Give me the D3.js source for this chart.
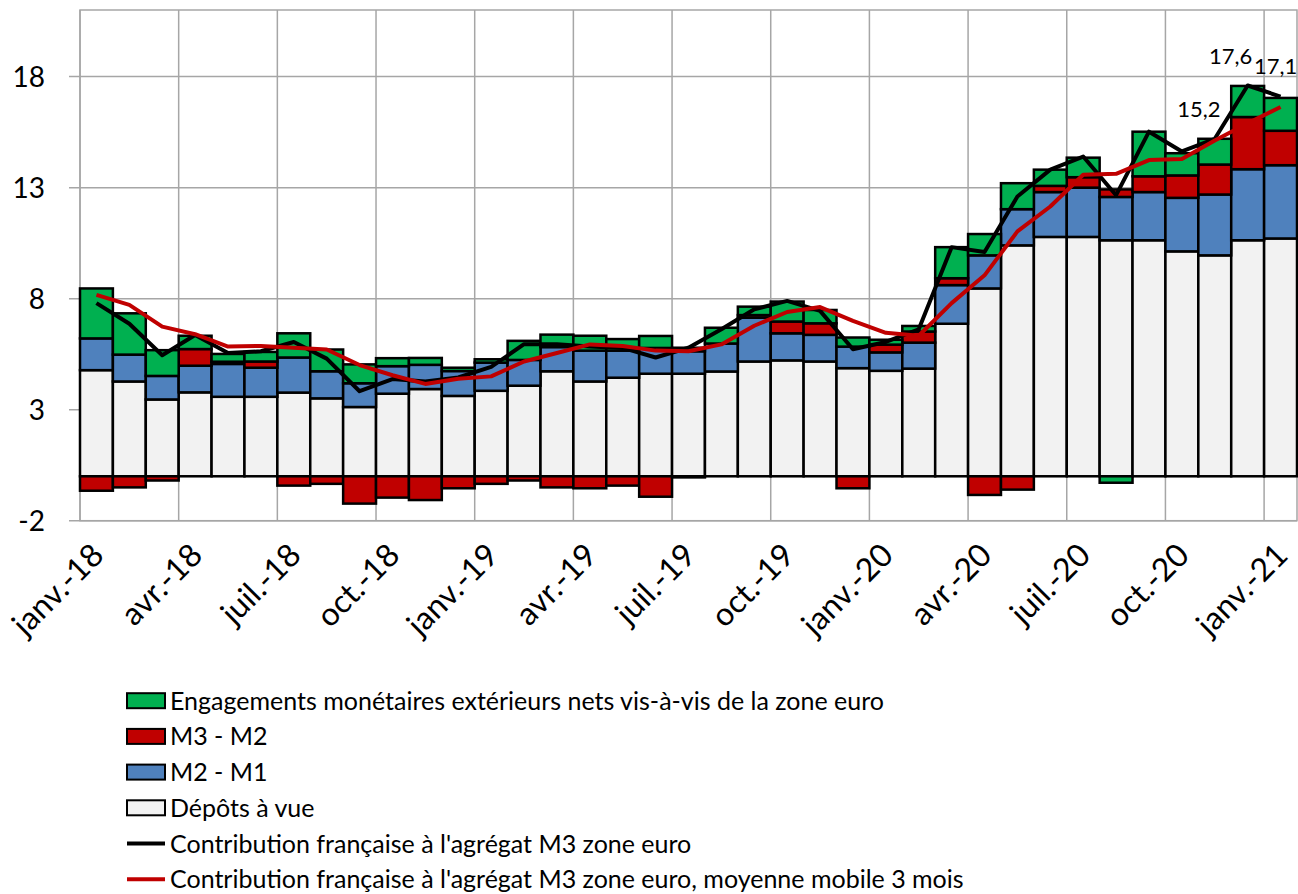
<!DOCTYPE html>
<html>
<head>
<meta charset="utf-8">
<script src="https://cdnjs.cloudflare.com/ajax/libs/d3/7.8.5/d3.min.js"></script>
<style>
    body { margin: 0; background: #fff; }
    svg { display: block; font-family: Lato, "Open Sans", sans-serif; }
</style>
</head>
<body>
<div id="chart"></div>
<script>
// months from janv.-18 to janv.-21
var monthNames = ["janv.", "févr.", "mars", "avr.", "mai", "juin", "juil.", "août", "sept.", "oct.", "nov.", "déc."];
var months = [];
for (var yr = 18; yr <= 21; yr++) {
    monthNames.forEach(function (m, i) {
        if (yr < 21 || i === 0) months.push(m + "-" + yr);
    });
}

var depots = [4.78, 4.27, 3.46, 3.78, 3.58, 3.58, 3.77, 3.51, 3.12, 3.72, 3.93, 3.62, 3.85, 4.08, 4.73, 4.27, 4.44, 4.62, 4.62, 4.72,
    5.17, 5.22, 5.17, 4.87, 4.75, 4.85, 6.87, 8.46, 10.40, 10.78, 10.78, 10.63, 10.63, 10.13, 9.95, 10.63, 10.71];
var m2m1 = [1.43, 1.21, 1.06, 1.20, 1.48, 1.31, 1.58, 1.22, 1.07, 1.24, 1.09, 1.12, 1.27, 1.16, 1.09, 1.39, 1.22, 1.16, 1.01, 1.26,
    1.97, 1.22, 1.20, 0.97, 0.83, 1.17, 1.74, 1.49, 1.63, 2.02, 2.22, 1.95, 2.17, 2.41, 2.74, 3.20, 3.30];
var m3m2 = [-0.65, -0.50, -0.19, 0.75, 0.10, 0.28, -0.42, -0.34, -1.23, -0.96, -1.07, -0.54, -0.34, -0.19, -0.50, -0.54, -0.42, -0.92, -0.05, 0.00,
    0.12, 0.53, 0.52, -0.54, 0.35, 0.50, 0.31, -0.84, -0.60, 0.28, 0.47, 0.34, 0.71, 1.01, 1.35, 2.35, 1.55];
var engagements = [2.25, 1.86, 1.16, 0.60, 0.35, 0.43, 1.09, 0.98, 0.85, 0.36, 0.31, 0.15, 0.15, 0.86, 0.56, 0.67, 0.52, 0.54, 0.16, 0.71,
    0.38, 0.90, 0.60, 0.41, 0.22, 0.25, 1.40, 0.96, 1.17, 0.73, 0.88, -0.29, 2.01, 1.00, 1.16, 1.40, 1.48];
var contribM3 = [7.80, 6.87, 5.45, 6.36, 5.55, 5.63, 6.05, 5.30, 3.83, 4.38, 4.27, 4.45, 4.93, 5.95, 5.95, 5.85, 5.78, 5.35, 5.79, 6.62,
    7.52, 7.90, 7.45, 5.72, 6.05, 6.62, 10.32, 10.10, 12.60, 13.81, 14.40, 12.66, 15.52, 14.63, 15.20, 17.60, 17.10];
var contribM3mm3 = [8.17, 7.72, 6.74, 6.40, 5.84, 5.87, 5.79, 5.71, 5.01, 4.55, 4.16, 4.39, 4.50, 5.17, 5.55, 5.94, 5.87, 5.66, 5.63, 5.94,
    6.78, 7.40, 7.62, 7.00, 6.46, 6.33, 7.80, 9.05, 11.03, 12.15, 13.58, 13.62, 14.24, 14.29, 15.12, 15.90, 16.63];

var yTicks = [-2, 3, 8, 13, 18];
var labelled = { 34: "15,2", 35: "17,6", 36: "17,1" };

var seriesKeys = ["depots", "m2m1", "m3m2", "engagements"];
var seriesNames = {
    engagements: "Engagements monétaires extérieurs nets vis-à-vis de la zone euro",
    m3m2: "M3 - M2",
    m2m1: "M2 - M1",
    depots: "Dépôts à vue"
};
var seriesColors = { depots: "#F2F2F2", m2m1: "#4F81BD", m3m2: "#C00000", engagements: "#00B050" };

var width = 1298, height = 894;
var plot = { left: 80, right: 1297, top: 10, bottom: 520.7 };

var rows = months.map(function (m, i) {
    return { month: m, depots: depots[i], m2m1: m2m1[i], m3m2: m3m2[i], engagements: engagements[i] };
});

var svg = d3.select("#chart").append("svg")
    .attr("width", width)
    .attr("height", height);

var x = d3.scaleBand().domain(months).range([plot.left, plot.right]).padding(0);
var y = d3.scaleLinear().domain([-2, 21]).range([plot.bottom, plot.top]);

// ****************** grid ***************************
var grid = svg.append("g");
grid.selectAll("line.h")
    .data(yTicks)
    .enter().append("line")
    .attr("x1", plot.left - 11).attr("x2", plot.right)
    .attr("y1", d => y(d)).attr("y2", d => y(d))
    .attr("stroke", "#a6a6a6").attr("stroke-width", 1.5);

grid.selectAll("line.v")
    .data(months.filter((m, i) => i % 3 === 0))
    .enter().append("line")
    .attr("x1", d => x(d)).attr("x2", d => x(d))
    .attr("y1", plot.top).attr("y2", plot.bottom)
    .attr("stroke", "#a6a6a6").attr("stroke-width", 1.5);

grid.append("rect")
    .attr("x", plot.left).attr("y", plot.top)
    .attr("width", plot.right - plot.left).attr("height", plot.bottom - plot.top)
    .attr("fill", "none").attr("stroke", "#a6a6a6").attr("stroke-width", 1.5);

// y labels
svg.append("g").selectAll("text")
    .data(yTicks)
    .enter().append("text")
    .attr("x", 45)
    .attr("y", d => y(d))
    .attr("dy", "0.36em")
    .attr("text-anchor", "end")
    .style("font-size", "28px")
    .text(d => d);

// ****************** stacked bars ***************************
var stack = d3.stack().keys(seriesKeys).offset(d3.stackOffsetDiverging);
var layers = stack(rows);

svg.append("g").selectAll("g")
    .data(layers)
    .enter().append("g")
    .attr("fill", d => seriesColors[d.key])
    .selectAll("rect")
    .data(d => d.filter(s => s[1] !== s[0]))
    .enter().append("rect")
    .attr("x", d => x(d.data.month))
    .attr("width", x.bandwidth())
    .attr("y", d => y(Math.max(d[0], d[1])))
    .attr("height", d => Math.abs(y(d[0]) - y(d[1])))
    .attr("stroke", "#000")
    .attr("stroke-width", 2.5);

// zero line
svg.append("line")
    .attr("x1", plot.left).attr("x2", plot.right)
    .attr("y1", y(0)).attr("y2", y(0))
    .attr("stroke", "#000").attr("stroke-width", 1.5);

// ****************** lines ***************************
var line = d3.line()
    .x((d, i) => x(months[i]) + x.bandwidth() / 2)
    .y(d => y(d));

svg.append("path")
    .datum(contribM3)
    .attr("d", line)
    .attr("fill", "none").attr("stroke", "#000").attr("stroke-width", 4)
    .attr("stroke-linejoin", "round");

svg.append("path")
    .datum(contribM3mm3)
    .attr("d", line)
    .attr("fill", "none").attr("stroke", "#C00000").attr("stroke-width", 4)
    .attr("stroke-linejoin", "round");

// data labels on the last points
var labelOffsets = { 34: [-16, -30], 35: [-17, -29], 36: [-5, -31] };
svg.append("g").selectAll("text")
    .data(Object.keys(labelled).map(Number))
    .enter().append("text")
    .attr("x", i => x(months[i]) + x.bandwidth() / 2 + labelOffsets[i][0])
    .attr("y", i => y(contribM3[i]) + labelOffsets[i][1])
    .attr("dy", "0.36em")
    .attr("text-anchor", "middle")
    .style("font-size", "22px")
    .text(i => labelled[i]);

// x labels (every 3 months)
svg.append("g").selectAll("text")
    .data(months.filter((m, i) => i % 3 === 0))
    .enter().append("text")
    .attr("transform", d => "translate(" + (x(d) + x.bandwidth() / 2 + 1) + "," + 549 + ") rotate(-45)")
    .attr("text-anchor", "end")
    .attr("dy", "0.36em")
    .style("font-size", "32px")
    .text(d => d);

// ****************** legend ***************************
var legendItems = [
    { key: "engagements", type: "rect" },
    { key: "m3m2", type: "rect" },
    { key: "m2m1", type: "rect" },
    { key: "depots", type: "rect" },
    { name: "Contribution française à l'agrégat M3 zone euro", type: "line", color: "#000" },
    { name: "Contribution française à l'agrégat M3 zone euro, moyenne mobile 3 mois", type: "line", color: "#C00000" }
];

var legend = svg.append("g").selectAll("g")
    .data(legendItems)
    .enter().append("g")
    .attr("transform", (d, i) => "translate(127," + (700.7 + i * 35.7) + ")");

legend.filter(d => d.type === "rect").append("rect")
    .attr("x", 0).attr("y", -7.5)
    .attr("width", 38).attr("height", 15)
    .attr("fill", d => seriesColors[d.key])
    .attr("stroke", "#000").attr("stroke-width", 2);

legend.filter(d => d.type === "line").append("line")
    .attr("x1", 0).attr("x2", 38)
    .attr("stroke", d => d.color).attr("stroke-width", 4);

legend.append("text")
    .attr("x", 43)
    .attr("dy", "0.36em")
    .style("font-size", "25px")
    .text(d => d.name || seriesNames[d.key]);
</script>
</body>
</html>
